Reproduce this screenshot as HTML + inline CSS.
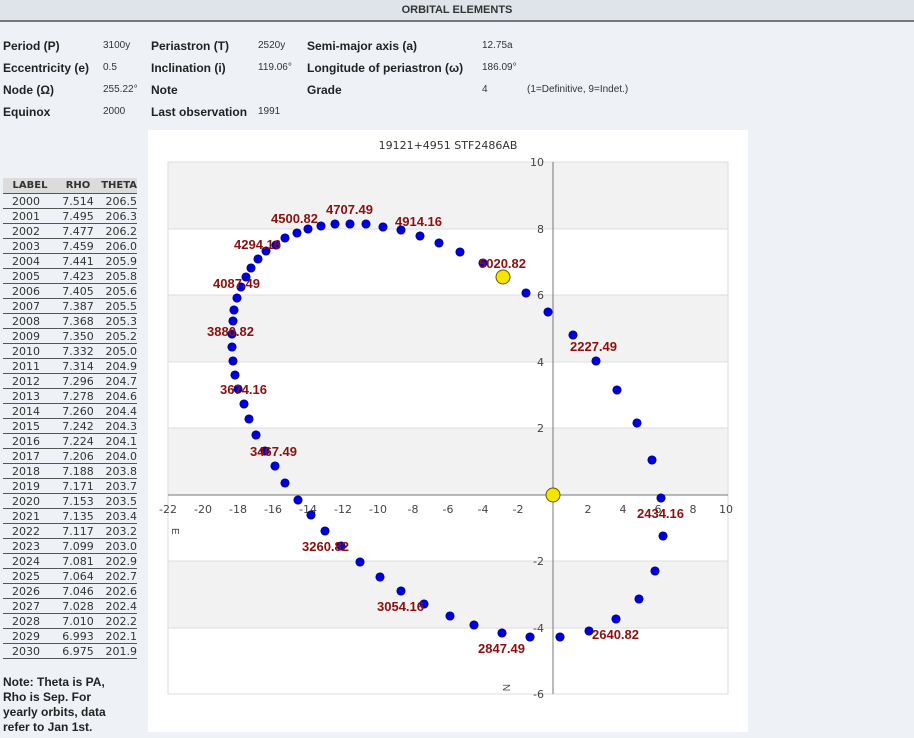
<!DOCTYPE html>
<html><head><meta charset="utf-8"><style>
body{margin:0;width:914px;height:738px;background:#eef2f7;font-family:"Liberation Sans",sans-serif;position:relative;overflow:hidden}
.hdr{position:absolute;left:0;top:0;width:914px;height:20px;background:#dfe4ea;border-bottom:2px solid #777;text-align:center;font-weight:bold;font-size:11px;line-height:20px;color:#333}
.el{position:absolute;font-size:12px;color:#222}
.b{font-weight:bold}
.s{font-size:10px;color:#333}
table{position:absolute;left:3px;top:178px;border-collapse:collapse;font-family:"DejaVu Sans",sans-serif;font-size:11px;color:#333}
td,th{height:14px;padding:0;border-bottom:1px solid #555}
th{background:#dcdcdc;font-size:10px;height:15px}
td:nth-child(1){width:45px;padding-left:9px}
td:nth-child(2){width:42px;text-align:center}
td:nth-child(3){width:38px;text-align:right}
.note{position:absolute;left:3px;top:675px;font-size:12px;font-weight:bold;color:#222;line-height:15px}
</style></head><body>
<div class="hdr">ORBITAL ELEMENTS</div>
<div class="el b" style="left:3px;top:39px">Period (P)</div><div class="el s" style="left:103px;top:40px">3100y</div>
<div class="el b" style="left:151px;top:39px">Periastron (T)</div><div class="el s" style="left:258px;top:40px">2520y</div>
<div class="el b" style="left:307px;top:39px">Semi-major axis (a)</div><div class="el s" style="left:482px;top:40px">12.75a</div>
<div class="el b" style="left:3px;top:61px">Eccentricity (e)</div><div class="el s" style="left:103px;top:62px">0.5</div>
<div class="el b" style="left:151px;top:61px">Inclination (i)</div><div class="el s" style="left:258px;top:62px">119.06°</div>
<div class="el b" style="left:307px;top:61px">Longitude of periastron (ω)</div><div class="el s" style="left:482px;top:62px">186.09°</div>
<div class="el b" style="left:3px;top:83px">Node (Ω)</div><div class="el s" style="left:103px;top:84px">255.22°</div>
<div class="el b" style="left:151px;top:83px">Note</div>
<div class="el b" style="left:307px;top:83px">Grade</div><div class="el s" style="left:482px;top:84px">4</div><div class="el s" style="left:527px;top:84px">(1=Definitive, 9=Indet.)</div>
<div class="el b" style="left:3px;top:105px">Equinox</div><div class="el s" style="left:103px;top:106px">2000</div>
<div class="el b" style="left:151px;top:105px">Last observation</div><div class="el s" style="left:258px;top:106px">1991</div>
<table>
<tr><th>LABEL</th><th>RHO</th><th style="text-align:right">THETA</th></tr>
<tr><td>2000</td><td>7.514</td><td>206.5</td></tr><tr><td>2001</td><td>7.495</td><td>206.3</td></tr><tr><td>2002</td><td>7.477</td><td>206.2</td></tr><tr><td>2003</td><td>7.459</td><td>206.0</td></tr><tr><td>2004</td><td>7.441</td><td>205.9</td></tr><tr><td>2005</td><td>7.423</td><td>205.8</td></tr><tr><td>2006</td><td>7.405</td><td>205.6</td></tr><tr><td>2007</td><td>7.387</td><td>205.5</td></tr><tr><td>2008</td><td>7.368</td><td>205.3</td></tr><tr><td>2009</td><td>7.350</td><td>205.2</td></tr><tr><td>2010</td><td>7.332</td><td>205.0</td></tr><tr><td>2011</td><td>7.314</td><td>204.9</td></tr><tr><td>2012</td><td>7.296</td><td>204.7</td></tr><tr><td>2013</td><td>7.278</td><td>204.6</td></tr><tr><td>2014</td><td>7.260</td><td>204.4</td></tr><tr><td>2015</td><td>7.242</td><td>204.3</td></tr><tr><td>2016</td><td>7.224</td><td>204.1</td></tr><tr><td>2017</td><td>7.206</td><td>204.0</td></tr><tr><td>2018</td><td>7.188</td><td>203.8</td></tr><tr><td>2019</td><td>7.171</td><td>203.7</td></tr><tr><td>2020</td><td>7.153</td><td>203.5</td></tr><tr><td>2021</td><td>7.135</td><td>203.4</td></tr><tr><td>2022</td><td>7.117</td><td>203.2</td></tr><tr><td>2023</td><td>7.099</td><td>203.0</td></tr><tr><td>2024</td><td>7.081</td><td>202.9</td></tr><tr><td>2025</td><td>7.064</td><td>202.7</td></tr><tr><td>2026</td><td>7.046</td><td>202.6</td></tr><tr><td>2027</td><td>7.028</td><td>202.4</td></tr><tr><td>2028</td><td>7.010</td><td>202.2</td></tr><tr><td>2029</td><td>6.993</td><td>202.1</td></tr><tr><td>2030</td><td>6.975</td><td>201.9</td></tr>
</table>
<div class="note">Note: Theta is PA,<br>Rho is Sep. For<br>yearly orbits, data<br>refer to Jan 1st.</div>
<svg style="position:absolute;left:0;top:0" width="914" height="738" font-family="Liberation Sans,sans-serif">
<rect x="148" y="130" width="600" height="602" fill="#fff"/>
<text x="448" y="149" font-size="11" text-anchor="middle" fill="#333" font-family="DejaVu Sans,sans-serif">19121+4951 STF2486AB</text>
<g fill="#f2f2f2"><rect x="168" y="162" width="560" height="67"/><rect x="168" y="295" width="560" height="67"/><rect x="168" y="428" width="560" height="67"/><rect x="168" y="561" width="560" height="67"/></g>
<g stroke="#ddd"><rect x="168" y="162" width="560" height="532" fill="none"/><line x1="168" y1="229" x2="728" y2="229"/><line x1="168" y1="295" x2="728" y2="295"/><line x1="168" y1="362" x2="728" y2="362"/><line x1="168" y1="428" x2="728" y2="428"/><line x1="168" y1="561" x2="728" y2="561"/><line x1="168" y1="628" x2="728" y2="628"/></g>
<g stroke="#777"><line x1="553" y1="162" x2="553" y2="694"/><line x1="168" y1="495" x2="728" y2="495"/></g>
<g font-size="11" fill="#444" font-family="DejaVu Sans,sans-serif" text-anchor="middle">
<text x="168" y="513">-22</text><text x="203" y="513">-20</text><text x="238" y="513">-18</text><text x="273" y="513">-16</text><text x="308" y="513">-14</text><text x="343" y="513">-12</text><text x="378" y="513">-10</text><text x="413" y="513">-8</text><text x="448" y="513">-6</text><text x="483" y="513">-4</text><text x="518" y="513">-2</text><text x="588" y="513">2</text><text x="623" y="513">4</text><text x="658" y="513">6</text><text x="693" y="513">8</text><text x="726" y="513">10</text>
</g>
<g font-size="11" fill="#444" font-family="DejaVu Sans,sans-serif" text-anchor="end">
<text x="544" y="166">10</text><text x="544" y="233">8</text><text x="544" y="299">6</text><text x="544" y="366">4</text><text x="544" y="432">2</text><text x="544" y="565">-2</text><text x="544" y="632">-4</text><text x="544" y="698">-6</text>
</g>
<text x="0" y="0" font-size="10" fill="#444" transform="translate(172,528) rotate(90)">E</text>
<text x="0" y="0" font-size="10" fill="#444" transform="translate(503,684) rotate(90)">N</text>
<g id="d" fill="#0000dd" stroke="#00006a" stroke-width="0.7"></g>
<circle cx="503" cy="277" r="7" fill="#f5e400" stroke="#665500"/>
<circle cx="553" cy="495" r="7" fill="#f5e400" stroke="#665500"/>
<g font-size="13" font-weight="bold" fill="#8b1010">
<text x="271" y="223">4500.82</text><text x="326" y="214">4707.49</text><text x="395" y="226">4914.16</text><text x="234" y="249">4294.16</text><text x="213" y="288">4087.49</text><text x="207" y="336">3880.82</text><text x="220" y="394">3674.16</text><text x="250" y="456">3467.49</text><text x="302" y="551">3260.82</text><text x="377" y="611">3054.16</text><text x="478" y="653">2847.49</text><text x="592" y="639">2640.82</text><text x="637" y="518">2434.16</text><text x="570" y="351">2227.49</text><text x="479" y="268">5020.82</text>
</g>
</svg>
<script>
var p=[[233,321],[234,310],[237,298],[241,287],[246,277],[251,268],[258,259],[266,251],[276,245],[285,238],[297,233],[308,229],[321,226],[335,224],[350,224],[366,224],[383,227],[401,230],[420,236],[439,243],[460,252],[483,263],[526,293],[548,312],[573,335],[596,361],[617,390],[637,423],[652,460],[661,498],[663,536],[655,571],[639,599],[616,619],[589,631],[560,637],[530,637],[502,633],[474,625],[450,616],[424,604],[401,591],[380,577],[360,562],[341,546],[325,531],[311,515],[298,500],[285,483],[275,466],[265,451],[256,435],[249,419],[244,404],[238,389],[235,375],[233,361],[232,347],[232,334]];
var g=document.getElementById('d'),s='';
p.forEach(function(q){s+='<circle cx="'+q[0]+'" cy="'+q[1]+'" r="4.2"/>';});
g.innerHTML=s;
</script>
</body></html>
